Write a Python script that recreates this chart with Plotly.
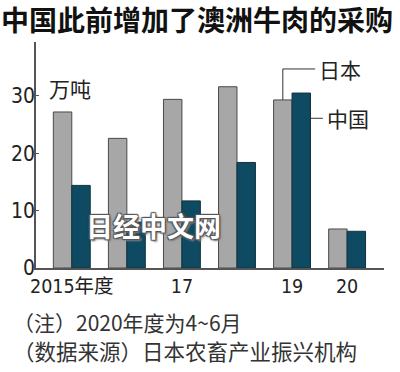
import plotly.graph_objects as go

years = ["2015", "2016", "2017", "2018", "2019", "2020"]
japan = [27.2, 22.6, 29.4, 31.6, 29.3, 6.8]
china = [14.4, 8.0, 11.7, 18.4, 30.5, 6.4]
tick_vals = ["2015", "2017", "2019", "2020"]
tick_text = ["2015年度", "17", "19", "20"]
y_ticks = [0, 10, 20, 30]

title = "中国此前增加了澳洲牛肉的采购"
unit = "万吨"
note1 = "（注）2020年度为4~6月"
note2 = "（数据来源）日本农畜产业振兴机构"
watermark = "日经中文网"

GRAY = "#a7a7a7"
TEAL = "#0e4a61"
CJK = "Noto Sans CJK SC"
NARROW = "Liberation Sans Narrow, DejaVu Sans Condensed, Noto Sans CJK SC"

W, H = 400, 372
L, R, T, B = 36, 16, 42, 104

fig = go.Figure()
fig.add_bar(x=years, y=japan, name="日本", marker=dict(color=GRAY, line=dict(color="#4a4a4a", width=1)))
fig.add_bar(x=years, y=china, name="中国", marker=dict(color=TEAL, line=dict(color="#123240", width=1)))

bargap = 0.33
half = (1 - bargap) / 2
i19 = years.index("2019")

# leader lines for series labels
jx = i19 - half / 2
jy_top = 34.7
fig.add_shape(type="path", xref="x", yref="y",
              path=f"M {jx},{japan[i19]} L {jx},{jy_top} L {i19 + 0.42},{jy_top}",
              line=dict(color="#333", width=1))
fig.add_annotation(x=i19 + 0.46, y=jy_top, xref="x", yref="y", text="日本", showarrow=False,
                   xanchor="left", yanchor="middle", font=dict(family=CJK, size=21, color="#222"))
cx = i19 + half
cy = 26.1
fig.add_shape(type="line", xref="x", yref="y", x0=cx, x1=i19 + 0.56, y0=cy, y1=cy,
              line=dict(color="#333", width=1))
fig.add_annotation(x=i19 + 0.6, y=cy, xref="x", yref="y", text="中国", showarrow=False,
                   xanchor="left", yanchor="middle", font=dict(family=CJK, size=21, color="#222"))

fig.add_annotation(x=-0.45, y=31.4, xref="x", yref="y", text=unit, showarrow=False,
                   xanchor="left", yanchor="middle", font=dict(family=CJK, size=21, color="#222"))

plot_h = H - T - B
plot_w = W - L - R
fig.add_annotation(x=(11 - L) / plot_w, y=(H - B - 322) / plot_h, xref="paper", yref="paper",
                   text=note1, showarrow=False, xanchor="left", yanchor="middle",
                   font=dict(family=CJK, size=21, color="#333"))
fig.add_annotation(x=(11 - L) / plot_w, y=(H - B - 350) / plot_h, xref="paper", yref="paper",
                   text=note2, showarrow=False, xanchor="left", yanchor="middle",
                   font=dict(family=CJK, size=21.5, color="#333"))

fig.add_annotation(x=(153 - L) / plot_w, y=(H - B - 225) / plot_h, xref="paper", yref="paper",
                   text=f"<b>{watermark}</b>", showarrow=False, xanchor="center", yanchor="middle",
                   font=dict(family=CJK, size=27, color="white",
                             shadow="1px 1px 1px #555, -1px -1px 1px #555, 1px -1px 1px #555, -1px 1px 1px #555, 2px 2px 2px #888"))

fig.update_layout(
    width=W, height=H,
    margin=dict(l=L, r=R, t=T, b=B, autoexpand=False),
    paper_bgcolor="white", plot_bgcolor="white",
    barmode="group", bargap=bargap, bargroupgap=0,
    showlegend=False,
    title=dict(text=f"<b>{title}</b>", x=0.0, xref="container", xanchor="left",
               y=1 - 21 / H, yref="container", yanchor="middle", pad=dict(l=1),
               font=dict(family=CJK, size=28, color="#111")),
    xaxis=dict(type="category", range=[-0.65, 5.67], tickvals=tick_vals, ticktext=tick_text,
               showline=True, linecolor="#555", linewidth=1.5, ticks="", showgrid=False,
               automargin=False,
               tickfont=dict(family=NARROW, size=19.5, color="#222"), ticklabelstandoff=0),
    yaxis=dict(range=[0, 39.4], tickvals=y_ticks, showline=True, linecolor="#555", linewidth=1.5,
               ticks="inside", ticklen=3, tickcolor="#555", showgrid=False, zeroline=False,
               automargin=False,
               tickfont=dict(family=NARROW, size=21, color="#222"), ticklabelstandoff=-5),
)

fig.write_html("out.html", config={"displayModeBar": False},
               post_script="document.body.style.margin='0';document.body.style.padding='0';")
